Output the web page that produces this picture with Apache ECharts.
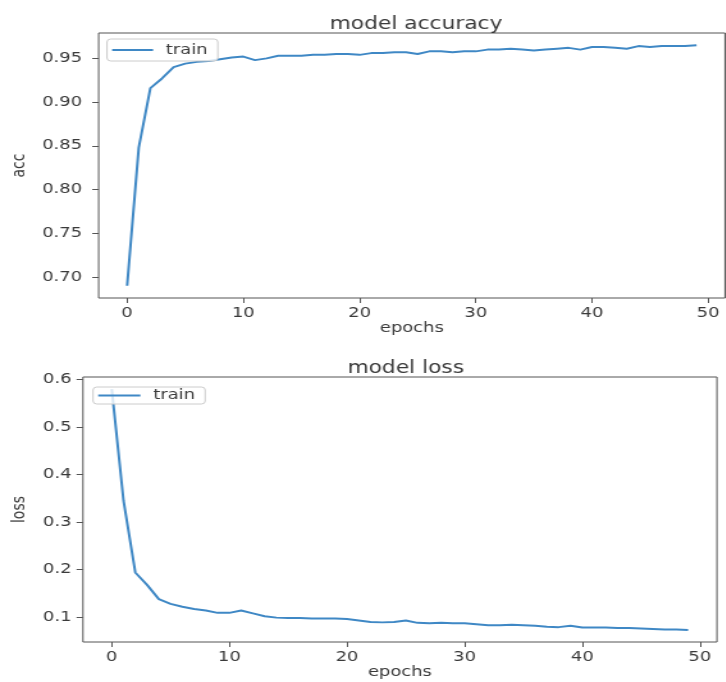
<!DOCTYPE html>
<html>
<head>
<meta charset="utf-8">
<script src="https://cdn.jsdelivr.net/npm/echarts@6/dist/echarts.min.js"></script>
<style>
  html, body { margin: 0; padding: 0; background: #fff; overflow: hidden; }
  #wrap { width: 726px; height: 682px; overflow: hidden; }
  #c { width: 567.2px; height: 682px; transform: scaleX(1.28); transform-origin: 0 0; }
</style>
</head>
<body>
<div id="wrap"><div id="c"></div></div>
<script>
const epochs = [0,1,2,3,4,5,6,7,8,9,10,11,12,13,14,15,16,17,18,19,20,21,22,23,24,25,26,27,28,29,30,31,32,33,34,35,36,37,38,39,40,41,42,43,44,45,46,47,48,49];
const accValues = [0.690,0.848,0.916,0.927,0.940,0.944,0.946,0.947,0.949,0.951,0.952,0.948,0.950,0.953,0.953,0.953,0.954,0.954,0.955,0.955,0.954,0.956,0.956,0.957,0.957,0.955,0.958,0.958,0.957,0.958,0.958,0.960,0.960,0.961,0.960,0.959,0.960,0.961,0.962,0.960,0.963,0.963,0.962,0.961,0.964,0.963,0.964,0.964,0.964,0.965];
const lossValues = [0.580,0.345,0.194,0.168,0.138,0.128,0.122,0.117,0.114,0.109,0.109,0.114,0.108,0.102,0.099,0.098,0.098,0.097,0.097,0.097,0.096,0.093,0.090,0.089,0.090,0.093,0.088,0.087,0.088,0.087,0.087,0.085,0.083,0.083,0.084,0.083,0.082,0.080,0.079,0.082,0.078,0.078,0.078,0.077,0.077,0.076,0.075,0.074,0.074,0.073];
const xTicks = [0,10,20,30,40,50];
const accTicks = [0.70,0.75,0.80,0.85,0.90,0.95];
const lossTicks = [0.1,0.2,0.3,0.4,0.5,0.6];

const FONT = 'DejaVu Sans';
const TXT = '#3a3a3a';
const FRAME = '#555';
const LINE = '#3f88c5';

const accData = epochs.map((e, i) => [e, accValues[i]]);
const lossData = epochs.map((e, i) => [e, lossValues[i]]);

function xAxis(gridIndex) {
  return {
    type: 'value', gridIndex, min: -2.45, max: 51.45,
    name: 'epochs', nameLocation: 'middle', nameGap: 22,
    nameTextStyle: { fontFamily: FONT, fontSize: 14, color: TXT },
    axisLine: { show: false, onZero: false },
    axisTick: { show: true, length: 5, lineStyle: { color: FRAME }, customValues: xTicks },
    axisLabel: { fontFamily: FONT, fontSize: 14, color: TXT, margin: 8, customValues: xTicks, formatter: v => String(Math.round(v)) },
    splitLine: { show: false }
  };
}
function yAxis(gridIndex, name, min, max, ticks, dec, gap, margin) {
  return {
    type: 'value', gridIndex, min, max,
    name, nameLocation: 'middle', nameGap: gap, nameRotate: 90,
    nameTextStyle: { fontFamily: FONT, fontSize: 14, color: TXT },
    axisLine: { show: false, onZero: false },
    axisTick: { show: true, length: 5, lineStyle: { color: FRAME }, customValues: ticks },
    axisLabel: { fontFamily: FONT, fontSize: 14, color: TXT, margin, customValues: ticks, formatter: v => v.toFixed(dec) },
    splitLine: { show: false }
  };
}

const LEG_ICON = 'path://M0,0H160V10H0Z';

const chart = echarts.init(document.getElementById('c'), null, { renderer: 'canvas' });
chart.setOption({
  animation: false,
  backgroundColor: '#fff',
  title: [
    { text: 'model accuracy', left: 320, top: 11, textAlign: 'center',
      textStyle: { fontFamily: FONT, fontSize: 17, fontWeight: 'normal', color: TXT } },
    { text: 'model loss', left: 312, top: 355, textAlign: 'center',
      textStyle: { fontFamily: FONT, fontSize: 17, fontWeight: 'normal', color: TXT } }
  ],
  legend: [
    { data: ['train'], left: 83.6, top: 39, orient: 'vertical', icon: LEG_ICON,
      padding: [4, 8, 4, 4], itemWidth: 32, itemHeight: 14,
      backgroundColor: 'rgba(255,255,255,0.8)', borderColor: '#ccc', borderWidth: 1, borderRadius: 3,
      textStyle: { fontFamily: FONT, fontSize: 14, color: TXT, padding: [0, 0, 0, 5] } },
    { data: ['train'], left: 72.7, top: 387, orient: 'vertical', icon: LEG_ICON,
      padding: [1.5, 8, 1.5, 4], itemWidth: 33, itemHeight: 14,
      backgroundColor: 'rgba(255,255,255,0.8)', borderColor: '#ccc', borderWidth: 1, borderRadius: 3,
      textStyle: { fontFamily: FONT, fontSize: 14, color: TXT, padding: [0, 0, 0, 5] } }
  ],
  grid: [
    { left: 75.8, top: 33, width: 490.6, height: 265, show: true, borderColor: FRAME, borderWidth: 1, backgroundColor: 'transparent' },
    { left: 64.8, top: 377, width: 495.3, height: 265, show: true, borderColor: FRAME, borderWidth: 1, backgroundColor: 'transparent' }
  ],
  xAxis: [xAxis(0), xAxis(1)],
  yAxis: [
    yAxis(0, 'acc', 0.676, 0.979, accTicks, 2, 51, 13),
    yAxis(1, 'loss', 0.0477, 0.6054, lossTicks, 1, 41, 9)
  ],
  series: [
    { name: 'train', type: 'line', xAxisIndex: 0, yAxisIndex: 0, data: accData,
      symbol: 'none', lineStyle: { color: LINE, width: 2 }, itemStyle: { color: LINE } },
    { name: 'train', type: 'line', xAxisIndex: 1, yAxisIndex: 1, data: lossData,
      symbol: 'none', lineStyle: { color: LINE, width: 2 }, itemStyle: { color: LINE } }
  ]
});
</script>
</body>
</html>
